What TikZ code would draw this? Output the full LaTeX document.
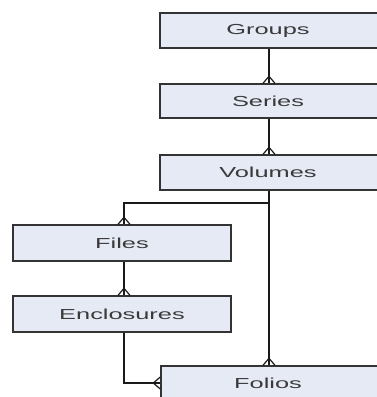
\documentclass[tikz,border=0pt]{standalone}
\usepackage{fontspec}
\setmainfont{Liberation Sans}
\usepackage{graphicx}
\definecolor{boxfill}{HTML}{E6EAF5}
\definecolor{boxline}{HTML}{333333}
\definecolor{txt}{HTML}{3A3A3A}
\definecolor{conn}{HTML}{1A1A1A}
\tikzset{
  entity/.style={draw=boxline, line width=1.4pt, fill=boxfill, minimum height=35pt, inner sep=0pt, text=txt, font=\fontsize{14}{14}\selectfont},
  lbl/.style={text=txt, font=\fontsize{14.5}{14.5}\selectfont},
  link/.style={draw=conn, line width=2pt},
  crow/.style={draw=conn, line width=1.2pt}
}
\newcommand{\wtxt}[1]{\scalebox{1.75}[1]{#1}}
\begin{document}
\begin{tikzpicture}[x=1pt,y=-1pt]
\useasboundingbox (0,0) rectangle (377,397);
\begin{scope}
\clip (0,0) rectangle (377,397);
\node[entity, minimum width=232pt, minimum height=35pt] (groups) at (276,30.5) {};
\node[entity, minimum width=232pt, minimum height=34pt] (series) at (276,101) {};
\node[entity, minimum width=232pt, minimum height=35pt] (volumes) at (276,172.5) {};
\node[entity, minimum width=218pt, minimum height=36pt] (files) at (122,243) {};
\node[entity, minimum width=218pt, minimum height=36pt] (encl) at (122,314) {};
\node[entity, minimum width=232pt, minimum height=44pt] (folios) at (277,388) {};
\node[lbl] (tg) at (268,30.5) {\wtxt{Groups}};
\node[lbl] (ts) at (268,101) {\wtxt{Series}};
\node[lbl] (tv) at (268,172.5) {\wtxt{Volumes}};
\node[lbl] (tf) at (122,243) {\wtxt{Files}};
\node[lbl] (te) at (122,314) {\wtxt{Enclosures}};
\node[lbl] (to) at (268,383) {\wtxt{Folios}};
% connectors
\coordinate (gx) at (269,0);
\coordinate (fx) at (124,0);
\draw[link] (groups.south -| gx) -- (series.north -| gx);
\draw[link] (series.south -| gx) -- (volumes.north -| gx);
\coordinate (bend) at (124,203);
\draw[link] (volumes.south -| gx) -- (folios.north -| gx);
\draw[link] (gx |- bend) -- (bend) -- (files.north -| bend);
\draw[link] (files.south -| fx) -- (encl.north -| fx);
\coordinate (ex) at (124,383);
\draw[link] (encl.south -| ex) -- (ex) -- (ex -| folios.west);
% crow's feet
\foreach \n/\xx in {series/269, volumes/269, folios/269, files/124, encl/124}{
  \draw[crow] ([xshift=-6pt]\xx,0 |- \n.north) -- ([yshift=7pt]\xx,0 |- \n.north) -- ([xshift=6pt]\xx,0 |- \n.north);
}
\draw[crow] ([yshift=6pt]folios.west |- ex) -- ([xshift=-7pt]folios.west |- ex) -- ([yshift=-6pt]folios.west |- ex);
\end{scope}
\end{tikzpicture}
\end{document}
